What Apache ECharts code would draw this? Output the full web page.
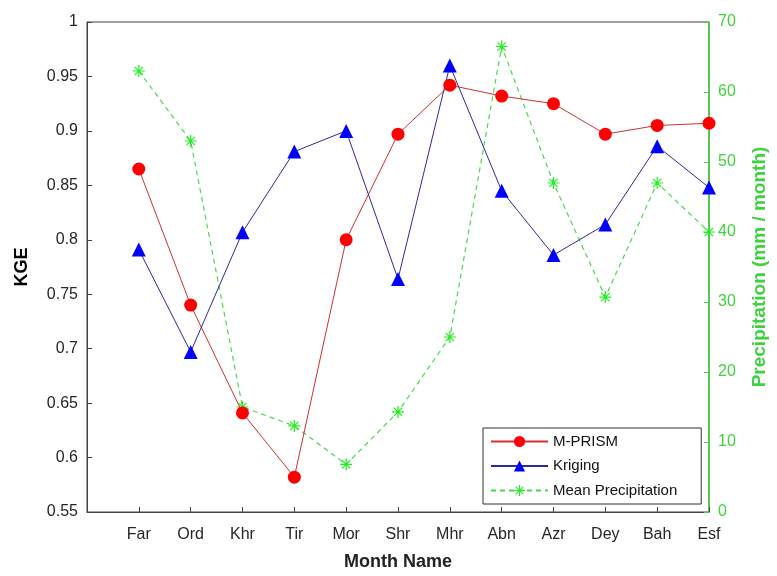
<!DOCTYPE html>
<html>
<head>
<meta charset="utf-8">
<script src="https://cdn.jsdelivr.net/npm/echarts@6/dist/echarts.min.js"></script>
<style>
  html, body { margin: 0; padding: 0; background: #fff; }
  #main { width: 777px; height: 576px; }
</style>
</head>
<body>
<div id="main"></div>
<script>
// month names (Persian calendar)
const months = ['Far', 'Ord', 'Khr', 'Tir', 'Mor', 'Shr', 'Mhr', 'Abn', 'Azr', 'Dey', 'Bah', 'Esf']
const kgePrism = [0.865, 0.740, 0.641, 0.582, 0.800, 0.897, 0.942, 0.932, 0.925, 0.897, 0.905, 0.907]
const kgeKriging = [0.791, 0.697, 0.807, 0.881, 0.900, 0.764, 0.960, 0.845, 0.786, 0.814, 0.886, 0.848]
const meanPrecip = [63, 53, 15, 12.3, 6.8, 14.3, 25, 66.5, 47, 30.7, 47, 40]

const green = '#3fd13f'
const font = 'Liberation Sans, Arial, sans-serif'

// asterisk marker like matlab '*'
const star = 'path://M-1,-10L1,-10L1,10L-1,10Z M-10,-1L10,-1L10,1L-10,1Z ' +
    'M-6.3,-7.7L7.7,6.3L6.3,7.7L-7.7,-6.3Z M6.3,-7.7L7.7,-6.3L-6.3,7.7L-7.7,6.3Z'

const pairs = arr => arr.map((v, i) => [i + 1, v])

const chart = echarts.init(document.getElementById('main'), null, { renderer: 'canvas' })

chart.setOption({
    animation: false,
    backgroundColor: '#fff',
    textStyle: { fontFamily: font },
    grid: {
        left: 87, right: 59, top: 22, bottom: 57,
        show: true, borderColor: '#444', borderWidth: 1
    },
    legend: {
        orient: 'vertical',
        left: 483, top: 428,
        padding: [5.5, 24, 5.5, 7],
        itemGap: 8.5,
        itemWidth: 57, itemHeight: 14,
        borderColor: '#333', borderWidth: 1,
        borderRadius: 0,
        backgroundColor: '#fff',
        textStyle: { fontSize: 15, lineHeight: 16, color: '#111', fontFamily: font },
        data: ['M-PRISM', 'Kriging', 'Mean Precipitation']
    },
    xAxis: {
        type: 'value',
        min: 0, max: 12, interval: 1,
        name: 'Month Name',
        nameLocation: 'middle',
        nameGap: 41,
        nameTextStyle: { fontSize: 18, fontWeight: 'bold', color: '#222' },
        axisLine: { lineStyle: { color: '#444' } },
        axisTick: { inside: true, length: 5, lineStyle: { color: '#444' } },
        axisLabel: {
            fontSize: 16, color: '#262626', margin: 15,
            formatter: v => (v >= 1 ? months[v - 1] : '')
        },
        splitLine: { show: false }
    },
    yAxis: [{
        type: 'value',
        min: 0.55, max: 1, interval: 0.05,
        name: 'KGE',
        nameLocation: 'middle',
        nameGap: 56,
        nameTextStyle: { fontSize: 18, fontWeight: 'bold', color: '#000' },
        axisLine: { show: true, lineStyle: { color: '#444' } },
        axisTick: { inside: true, length: 5, lineStyle: { color: '#444' } },
        axisLabel: {
            fontSize: 16, color: '#262626', margin: 9,
            formatter: v => String(+v.toFixed(2))
        },
        splitLine: { show: false }
    }, {
        type: 'value',
        position: 'right',
        min: 0, max: 70, interval: 10,
        name: 'Precipitation (mm / month)',
        nameLocation: 'middle',
        nameGap: 41,
        nameTextStyle: { fontSize: 19, fontWeight: 'bold', color: green },
        axisLine: { show: true, lineStyle: { color: green, width: 1.5 } },
        axisTick: { inside: true, length: 5, lineStyle: { color: green } },
        axisLabel: { fontSize: 16, color: green, margin: 9 },
        splitLine: { show: false }
    }],
    series: [{
        name: 'M-PRISM',
        type: 'line',
        data: pairs(kgePrism),
        symbol: 'circle',
        symbolSize: 13,
        lineStyle: { color: '#d03030', width: 1 },
        itemStyle: { color: '#ff0000' },
        z: 3
    }, {
        name: 'Kriging',
        type: 'line',
        data: pairs(kgeKriging),
        symbol: 'triangle',
        symbolSize: 14,
        lineStyle: { color: '#2b2b9a', width: 1 },
        itemStyle: { color: '#0000ff' },
        z: 3
    }, {
        name: 'Mean Precipitation',
        type: 'line',
        yAxisIndex: 1,
        data: pairs(meanPrecip),
        symbol: star,
        symbolSize: 12,
        lineStyle: { color: '#4cd84c', width: 1.2, type: [5, 4] },
        itemStyle: { color: '#22ee22' },
        z: 2
    }]
})
</script>
</body>
</html>
